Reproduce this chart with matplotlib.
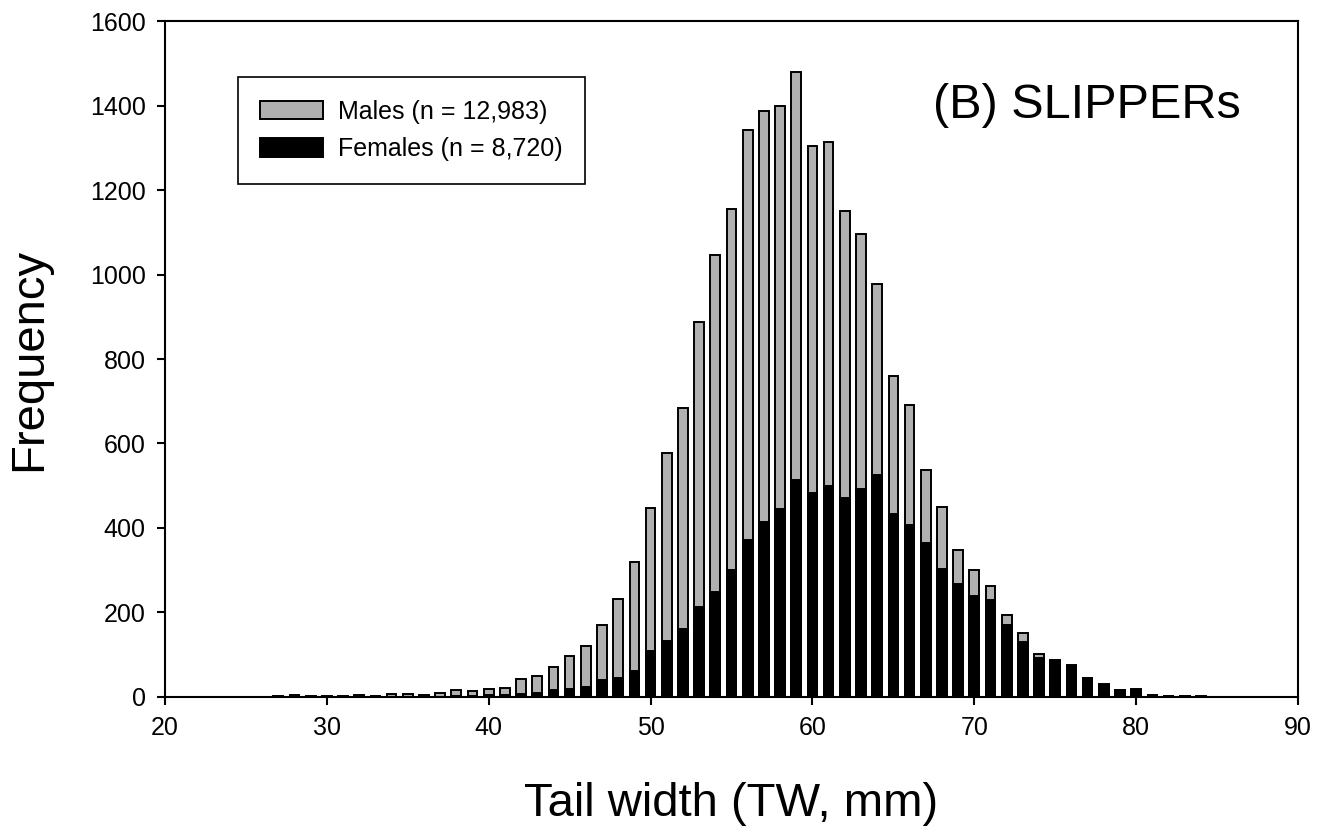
import matplotlib.pyplot as plt
import numpy as np

plt.rcParams['font.family'] = ['Liberation Sans', 'DejaVu Sans']

# Tail width classes (mm)
tw = np.arange(27, 85)

# Frequencies
males = [3, 4, 3, 2, 3, 4, 2, 7, 6, 5,
         10, 17, 14, 20, 22, 43, 49, 72, 97, 120,
         170, 231, 320, 447, 578, 684, 887, 1045, 1154, 1343,
         1387, 1398, 1479, 1303, 1314, 1150, 1097, 978, 759, 690,
         537, 450, 349, 300, 262, 195, 152, 101, 86, 73,
         44, 28, 16, 17, 4, 3, 2, 1]
females = [0, 0, 0, 0, 0, 1, 0, 1, 1, 1,
           1, 2, 2, 4, 4, 8, 10, 16, 20, 24,
           40, 46, 62, 109, 132, 160, 213, 249, 300, 371,
           415, 446, 513, 483, 499, 472, 493, 525, 434, 406,
           365, 302, 268, 238, 229, 170, 130, 93, 88, 75,
           46, 30, 17, 18, 4, 3, 3, 2]

fig = plt.figure(figsize=(13.24, 8.27), dpi=100)
ax = fig.add_axes([0.1246, 0.1572, 0.8558, 0.8174])

ax.bar(tw, males, width=0.6, color='#b0b0b0', edgecolor='black', linewidth=1.4,
       label='Males (n = 12,983)', zorder=2)
ax.bar(tw, females, width=0.6, color='black', edgecolor='black', linewidth=1.4,
       label='Females (n = 8,720)', zorder=3)

ax.set_xlim(20, 90)
ax.set_ylim(0, 1600)
ax.set_xticks(np.arange(20, 91, 10))
ax.set_yticks(np.arange(0, 1601, 200))
ax.tick_params(direction='out', length=6, width=1.5, labelsize=18, pad=8)
for s in ax.spines.values():
    s.set_linewidth(1.5)

ax.set_xlabel('Tail width (TW, mm)', fontsize=34, labelpad=30)
ax.set_ylabel('Frequency', fontsize=34, labelpad=28)

ax.text(0.949, 0.875, '(B) SLIPPERs', transform=ax.transAxes, fontsize=35,
        ha='right', va='center')

leg = ax.legend(loc='upper left', bbox_to_anchor=(0.0644, 0.917), fontsize=18,
                frameon=True, fancybox=False, edgecolor='black', framealpha=1,
                handlelength=2.5, handleheight=0.75, labelspacing=0.55,
                borderpad=0.9, handletextpad=0.6, borderaxespad=0)
leg.get_frame().set_linewidth(1.2)

fig.savefig('out.png', dpi=100)
